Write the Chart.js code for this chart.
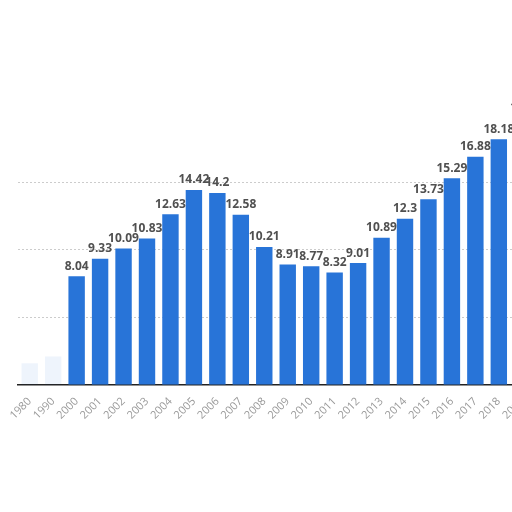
<!DOCTYPE html>
<html>
<head>
<meta charset="utf-8">
<script src="https://cdn.jsdelivr.net/npm/chart.js@4.4.0/dist/chart.umd.min.js"></script>
<style>
    html, body { margin: 0; padding: 0; background: #fff; overflow: hidden; }
    #wrap { position: absolute; left: 0; top: 0; width: 534px; height: 512px; }
</style>
</head>
<body>
<div id="wrap"><canvas id="barChart"></canvas></div>
<script>
// ================================================================
// DATA
// ================================================================

const years = ['1980', '1990', '2000', '2001', '2002', '2003', '2004', '2005', '2006',
    '2007', '2008', '2009', '2010', '2011', '2012', '2013', '2014', '2015', '2016',
    '2017', '2018', '2019'];

const values = [1.6, 2.1, 8.04, 9.33, 10.09, 10.83, 12.63, 14.42, 14.2,
    12.58, 10.21, 8.91, 8.77, 8.32, 9.01, 10.89, 12.3, 13.73, 15.29,
    16.88, 18.18, 19.8];

// the two early years are barely visible in the picture
const faintYears = ['1980', '1990'];

const yTicks = [0, 5, 10, 15, 20, 25];
const gridValues = [5, 10, 15];

const COLORS = {
    bar: '#2874d8',
    faint: 'rgba(40,116,216,0.08)',
    label: '#505050',
    tick: '#999999',
    grid: '#cccccc',
    axis: '#222222'
};

// ================================================================
// VALUE LABELS PLUGIN
// ================================================================

const valueLabels = {
    id: 'valueLabels',
    afterDatasetsDraw(chart) {
        const ctx = chart.ctx;
        const meta = chart.getDatasetMeta(0);
        ctx.save();
        ctx.font = 'bold 12px "Open Sans", sans-serif';
        ctx.fillStyle = COLORS.label;
        ctx.textAlign = 'center';
        ctx.textBaseline = 'bottom';
        meta.data.forEach((bar, i) => {
            if (faintYears.includes(years[i])) return;
            ctx.fillText(String(values[i]), bar.x, bar.y - 4);
        });
        ctx.restore();
    }
};

// ================================================================
// CHART
// ================================================================

const ctx = document.getElementById('barChart').getContext('2d');

new Chart(ctx, {
    type: 'bar',
    data: {
        labels: years,
        datasets: [{
            data: values,
            backgroundColor: years.map(y => faintYears.includes(y) ? COLORS.faint : COLORS.bar),
            categoryPercentage: 0.7,
            barPercentage: 1.0
        }]
    },
    options: {
        responsive: true,
        maintainAspectRatio: false,
        animation: false,
        layout: {
            padding: { left: 18, right: 0, top: 47, bottom: 88 }
        },
        plugins: {
            legend: { display: false },
            tooltip: { enabled: false }
        },
        scales: {
            x: {
                grid: { display: false },
                border: { display: true, color: COLORS.axis, width: 1.5 },
                ticks: {
                    color: COLORS.tick,
                    font: { size: 11, family: '"Open Sans", sans-serif' },
                    maxRotation: 45,
                    minRotation: 45,
                    autoSkip: false,
                    padding: 2
                }
            },
            y: {
                min: yTicks[0],
                max: yTicks[yTicks.length - 1],
                afterBuildTicks: axis => { axis.ticks = yTicks.map(v => ({ value: v })); },
                ticks: { display: false },
                border: { display: false, dash: [2, 2] },
                grid: {
                    color: ctx => gridValues.includes(ctx.tick.value) ? COLORS.grid : 'rgba(0,0,0,0)',
                    drawTicks: false
                }
            }
        }
    },
    plugins: [valueLabels]
});
</script>
</body>
</html>
